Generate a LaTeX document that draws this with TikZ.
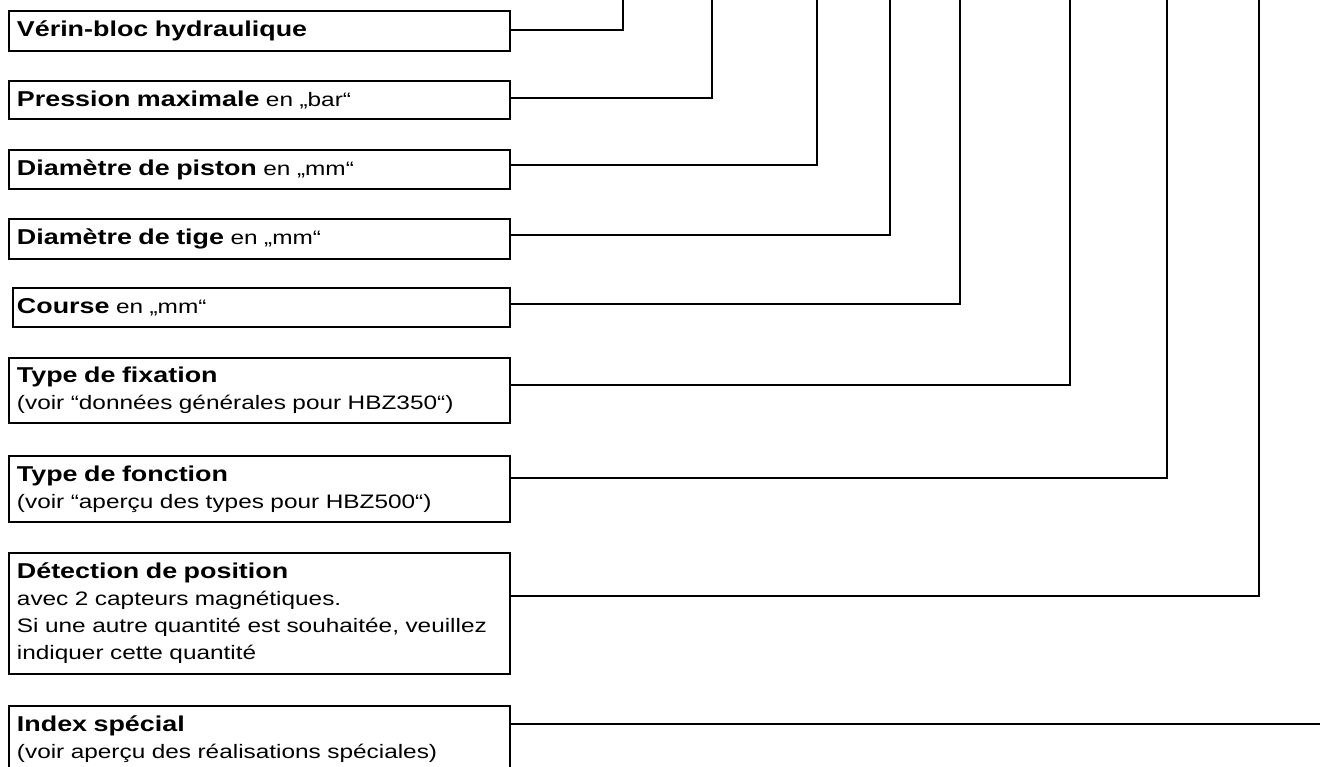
\documentclass[tikz,border=0pt]{standalone}
\usepackage{fontspec}
\setmainfont{Liberation Sans}[FakeStretch=1.25]
\newcommand\hb[1]{{\fontsize{21.5}{27}\selectfont\bfseries #1}}
\begin{document}
\begin{tikzpicture}[x=1pt,y=-1pt,
  box/.style={draw, line width=1.9pt, anchor=north west, align=left,
    inner xsep=8pt, inner ysep=0pt, text width=485pt,
    font=\fontsize{19.5}{27}\selectfont},
  conn/.style={line width=1.9pt}]
\clip (0,0) rectangle (1320,766);
\node[box, minimum height=40pt] (b1) at (8,10) {\hb{Vérin-bloc hydraulique}};
\node[box, minimum height=38pt] (b2) at (8,80) {\hb{Pression maximale} en „bar“};
\node[box, minimum height=39pt] (b3) at (8,149) {\hb{Diamètre de piston} en „mm“};
\node[box, minimum height=40pt] (b4) at (8,218) {\hb{Diamètre de tige} en „mm“};
\node[box, minimum height=39pt, inner xsep=4pt, text width=489pt] (b5) at (12,287) {\hb{Course} en „mm“};
\node[box, minimum height=65pt] (b6) at (8,357) {\hb{Type de fixation}\\(voir “données générales pour HBZ350“)};
\node[box, minimum height=66pt] (b7) at (8,455) {\hb{Type de fonction}\\(voir “aperçu des types pour HBZ500“)};
\node[box, minimum height=121pt] (b8) at (8,552) {\hb{Détection de position}\\avec 2 capteurs magnétiques.\\Si une autre quantité est souhaitée, veuillez\\indiquer cette quantité};
\node[box, minimum height=66pt] (b9) at (8,705) {\hb{Index spécial}\\(voir aperçu des réalisations spéciales)};
\coordinate (t1) at (623,-3);
\coordinate (t2) at (712,-3);
\coordinate (t3) at (817,-3);
\coordinate (t4) at (890,-3);
\coordinate (t5) at (960,-3);
\coordinate (t6) at (1070,-3);
\coordinate (t7) at (1167,-3);
\coordinate (t8) at (1259,-3);
\coordinate (t9) at (1323,724);
\draw[conn] (b1.east |- 0,30) -| (t1);
\draw[conn] (b2.east |- 0,98) -| (t2);
\draw[conn] (b3.east |- 0,165) -| (t3);
\draw[conn] (b4.east |- 0,235) -| (t4);
\draw[conn] (b5.east |- 0,304) -| (t5);
\draw[conn] (b6.east |- 0,385) -| (t6);
\draw[conn] (b7.east |- 0,478) -| (t7);
\draw[conn] (b8.east |- 0,596) -| (t8);
\draw[conn] (b9.east |- t9) -- (t9);
\end{tikzpicture}
\end{document}
